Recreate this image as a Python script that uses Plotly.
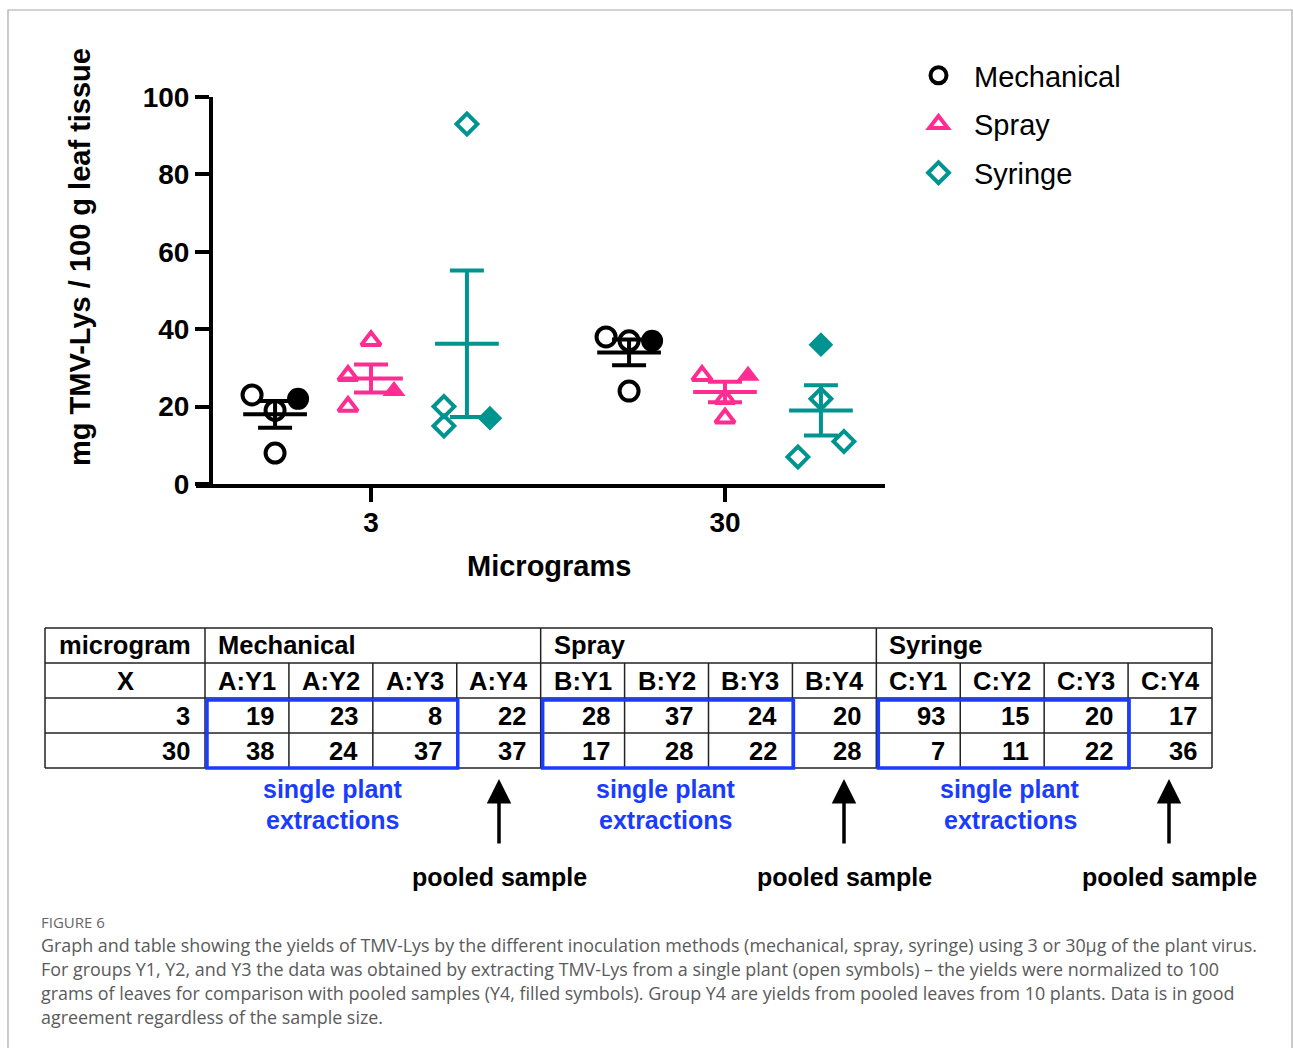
import plotly.graph_objects as go
import numpy as np

W, H = 1293, 1048
def px(x): return x / W
def py(y): return 1 - y / H

FONT = "Liberation Sans, Arial, sans-serif"
CAPFONT = "Open Sans, Lato, sans-serif"

# ---------------- data ----------------
methods = ["Mechanical", "Spray", "Syringe"]
doses = ["3", "30"]
colors = ["#000000", "#FF2D91", "#009490"]
symbols = ["circle", "triangle-up", "diamond"]
sizes = [19, 17, 16]

# values plotted per group (open = single plant Y1-Y3, filled = pooled Y4)
mech_3_open = [23, 19, 8]
mech_3_pooled = [22]
spray_3_open = [28, 37, 20]
spray_3_pooled = [24]
syr_3_open = [93, 15, 20]
syr_3_pooled = [17]
mech_30_open = [38, 37, 24]
mech_30_pooled = [37]
spray_30_open = [28, 22, 17]
spray_30_pooled = [28]
syr_30_open = [7, 22, 11]
syr_30_pooled = [36]

# scatter column of each point within its group (-1 left, 0 centre, 1 right)
mech_3_cols = [-1, 0, 0, 1]
spray_3_cols = [-1, 0, -1, 1]
syr_3_cols = [0, -1, -1, 1]
mech_30_cols = [-1, 0, 0, 1]
spray_30_cols = [-1, 0, 0, 1]
syr_30_cols = [-1, 0, 1, 0]

groups = [
    (0, 0, mech_3_open, mech_3_pooled, mech_3_cols),
    (0, 1, spray_3_open, spray_3_pooled, spray_3_cols),
    (0, 2, syr_3_open, syr_3_pooled, syr_3_cols),
    (1, 0, mech_30_open, mech_30_pooled, mech_30_cols),
    (1, 1, spray_30_open, spray_30_pooled, spray_30_cols),
    (1, 2, syr_30_open, syr_30_pooled, syr_30_cols),
]

# table
table_cols = ["A:Y1", "A:Y2", "A:Y3", "A:Y4", "B:Y1", "B:Y2", "B:Y3", "B:Y4",
              "C:Y1", "C:Y2", "C:Y3", "C:Y4"]
table_rows = ["3", "30"]
table_3 = [19, 23, 8, 22, 28, 37, 24, 20, 93, 15, 20, 17]
table_30 = [38, 24, 37, 37, 17, 28, 22, 28, 7, 11, 22, 36]

caption_title = "FIGURE 6"
caption_lines = [
    "Graph and table showing the yields of TMV-Lys by the different inoculation methods (mechanical, spray, syringe) using 3 or 30µg of the plant virus.",
    "For groups Y1, Y2, and Y3 the data was obtained by extracting TMV-Lys from a single plant (open symbols) – the yields were normalized to 100",
    "grams of leaves for comparison with pooled samples (Y4, filled symbols). Group Y4 are yields from pooled leaves from 10 plants. Data is in good",
    "agreement regardless of the sample size.",
]

# ---------------- figure ----------------
GROUP_OFF = 0.271
JIT = 0.065
MEAN_HW = 0.09

fig = go.Figure()
legend_done = set()
for d, m, opn, pooled, cols in groups:
    centre = d + (m - 1) * GROUP_OFF
    allv = np.array(opn + pooled, dtype=float)
    mean = allv.mean()
    sem = allv.std(ddof=1) / np.sqrt(len(allv))
    xs = [centre + c * JIT for c in cols]
    col = colors[m]
    fig.add_trace(go.Scatter(x=[centre - MEAN_HW, centre + MEAN_HW], y=[mean, mean],
                             mode="lines", line=dict(color=col, width=4),
                             showlegend=False, hoverinfo="skip"))
    fig.add_trace(go.Scatter(x=[centre], y=[mean], mode="markers",
                             marker=dict(size=1, opacity=0),
                             error_y=dict(type="data", array=[sem], color=col,
                                          thickness=4, width=17),
                             showlegend=False, hoverinfo="skip"))
    fig.add_trace(go.Scatter(x=xs[:len(opn)], y=opn, mode="markers",
                             name=methods[m], legendgroup=methods[m],
                             showlegend=methods[m] not in legend_done,
                             marker=dict(symbol=symbols[m] + "-open", size=sizes[m],
                                         color=col, line=dict(width=4, color=col))))
    legend_done.add(methods[m])
    fig.add_trace(go.Scatter(x=xs[len(opn):], y=pooled, mode="markers",
                             showlegend=False, legendgroup=methods[m],
                             marker=dict(symbol=symbols[m], size=sizes[m] + 3,
                                         color=col, line=dict(width=0))))

X0, X1 = 196, 885
X_AT0, X_AT1 = 371, 725
scale = X_AT1 - X_AT0
xr = [(X0 - X_AT0) / scale, (X1 - X_AT0) / scale]

fig.update_layout(
    template="none",
    width=W, height=H, margin=dict(l=0, r=0, t=0, b=0, pad=0, autoexpand=False),
    paper_bgcolor="white", plot_bgcolor="white",
    font=dict(family=FONT, color="black"),
    xaxis=dict(domain=[px(X0), px(X1)], range=xr, anchor="y", automargin=False,
               tickvals=[0, 1], ticktext=doses, showline=True, linewidth=4,
               linecolor="black", ticks="outside", ticklen=14, tickwidth=4,
               tickcolor="black", showgrid=False, zeroline=False, ticklabelstandoff=-4,
               tickfont=dict(size=28, family=FONT, weight="bold")),
    yaxis=dict(domain=[py(484), py(97)], range=[0, 100], anchor="free", automargin=False,
               position=px(211), tickvals=[0, 20, 40, 60, 80, 100],
               showline=True, linewidth=4, linecolor="black", ticks="outside",
               ticklen=14, tickwidth=4, tickcolor="black", showgrid=False,
               zeroline=False, tickfont=dict(size=28, family=FONT, weight="bold")),
    legend=dict(x=px(903), y=py(50), xanchor="left", yanchor="top",
                font=dict(size=29, family=FONT), tracegroupgap=8,
                itemsizing="trace", itemwidth=61, bgcolor="rgba(0,0,0,0)"),
)

ann = []
shapes = []

def text(x, y, t, font, xa="center", ya="middle", **kw):
    ann.append(dict(x=px(x), y=py(y), xref="paper", yref="paper", text=t, showarrow=False,
                    xanchor=xa, yanchor=ya, font=font, **kw))

text(80, 257, "mg TMV-Lys / 100 g leaf tissue", dict(size=29, family=FONT, weight="bold"), textangle=-90)
text(549, 566, "Micrograms", dict(size=29, family=FONT, weight="bold"))

# ---------------- table ----------------
TL, TR = 45, 1212
C0 = 205
cw = (TR - C0) / 12
col_edges = [C0 + i * cw for i in range(13)]
row_edges = [628, 663, 698, 733, 768]
LC = "#222222"
LW = 1.5

def line(x0, y0, x1, y1, color=LC, width=LW):
    shapes.append(dict(type="line", xref="paper", yref="paper", x0=px(x0), y0=py(y0),
                       x1=px(x1), y1=py(y1), line=dict(color=color, width=width)))

for r in row_edges:
    line(TL, r, TR, r)
for x in [TL, C0, col_edges[4], col_edges[8], TR]:
    line(x, row_edges[0], x, row_edges[4])
for x in col_edges[1:12]:
    if x not in (col_edges[4], col_edges[8]):
        line(x, row_edges[1], x, row_edges[4])

TF = dict(size=25.5, family=FONT, weight="bold", color="black")
def rowc(i): return (row_edges[i] + row_edges[i + 1]) / 2

text((TL + C0) / 2, rowc(0) - 1, "microgram", TF)
for k, mname in enumerate(methods):
    text(col_edges[4 * k] + 11, rowc(0) - 1, mname, TF, xa="left")
text((TL + C0) / 2, rowc(1), "X", TF)
for i, h in enumerate(table_cols):
    text((col_edges[i] + col_edges[i + 1]) / 2, rowc(1), h, TF)
for ri, (lab, vals) in enumerate(zip(table_rows, [table_3, table_30])):
    text(C0 - 13, rowc(2 + ri), lab, TF, xa="right")
    for i, v in enumerate(vals):
        text(col_edges[i + 1] - 13, rowc(2 + ri), str(v), TF, xa="right")

BLUE = "#1a3cff"
BF = dict(size=25, family=FONT, weight="bold", color=BLUE)
single_x = [333, 666, 1010]
pooled_x = [499, 844, 1169]
for k in range(3):
    x0 = col_edges[4 * k] + 2
    x1 = col_edges[4 * k + 3] + 1
    shapes.append(dict(type="rect", xref="paper", yref="paper", x0=px(x0), x1=px(x1),
                       y0=py(row_edges[2] + 2), y1=py(row_edges[4]),
                       line=dict(color=BLUE, width=3.5)))
    text(single_x[k], 789, "single plant", BF)
    text(single_x[k], 820, "extractions", BF)
    ax = pooled_x[k]
    ann.append(dict(x=px(ax), y=py(779), xref="paper", yref="paper", ax=0, ay=66,
                    axref="pixel", ayref="pixel", text="", showarrow=True, arrowhead=2,
                    arrowsize=1.4, arrowwidth=3.5, arrowcolor="black"))
    text(ax, 877, "pooled sample", dict(size=25, family=FONT, weight="bold"))

# ---------------- caption ----------------
text(39, 922, caption_title, dict(size=15, family=CAPFONT, color="#666666"), xa="left")
for i, t in enumerate(caption_lines):
    text(39, 945 + 24 * i, t, dict(size=17.9, family=CAPFONT, color="#5a5a5a"), xa="left")

shapes.append(dict(type="rect", xref="paper", yref="paper", x0=px(8), x1=px(1292), y0=py(10),
                   y1=py(1060), line=dict(color="#a8a8a8", width=1.2), layer="below"))

fig.update_layout(annotations=ann, shapes=shapes)
fig.write_html("out.html", config={"displayModeBar": False},
               post_script="document.body.style.margin='0';")
